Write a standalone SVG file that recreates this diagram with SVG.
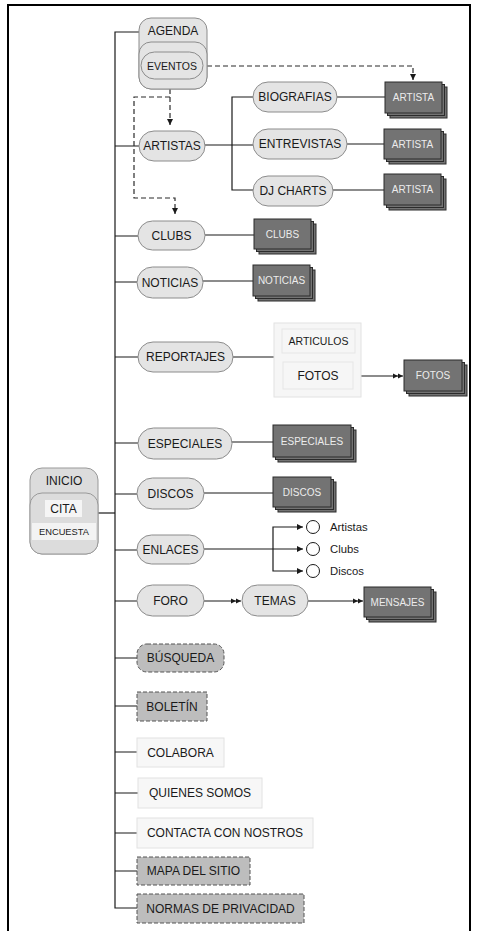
<svg xmlns="http://www.w3.org/2000/svg" width="479" height="931" viewBox="0 0 479 931">
<style>
text{font-family:"Liberation Sans",Arial,sans-serif;font-size:12px;fill:#1a1a1a;text-anchor:middle;dominant-baseline:central}
.pill{fill:#e4e4e4;stroke:#8c8c8c;stroke-width:1}
.dk{fill:#737373;stroke:#2b2b2b;stroke-width:1}
.dkt{fill:#ececec;font-size:10px}
.ln{fill:none;stroke:#1a1a1a;stroke-width:1.2}
.ds{fill:none;stroke:#2b2b2b;stroke-width:1.2;stroke-dasharray:5,3}
.gray{fill:#bdbdbd;stroke:#555;stroke-width:1;stroke-dasharray:4,2}
.lite{fill:#f7f7f7;stroke:#e2e2e2;stroke-width:1}
.sm{font-size:11.3px;text-anchor:start}
</style>
<defs>
<marker id="arr" markerUnits="userSpaceOnUse" markerWidth="6" markerHeight="6" refX="6" refY="3" orient="auto">
<path d="M0,0 L6,3 L0,6 Z" fill="#1a1a1a"/>
</marker>
<marker id="arr2" markerUnits="userSpaceOnUse" markerWidth="10" markerHeight="6" refX="10" refY="3" orient="auto">
<path d="M0,0.5 L5,3 L0,5.5 Z M5,0.5 L10,3 L5,5.5 Z" fill="#1a1a1a"/>
</marker>
</defs>

<!-- page frame -->
<rect x="8" y="5" width="462" height="940" fill="#fff" stroke="#000" stroke-width="2"/>

<g id="connectors">
<path class="ln" d="M139,32 H115 V908 H137"/>
<path class="ln" d="M98,513 H115"/>
<path class="ln" d="M115,146 H139 M115,236 H138 M115,282 H137 M115,357 H138 M115,443 H138 M115,494 H137 M115,550 H137 M115,601 H137 M115,658 H137 M115,706 H137 M115,752 H137 M115,793 H138 M115,833 H137 M115,871 H137"/>
<path class="ln" d="M205,145 H253 M253,97 H232 V190 H253"/>
<path class="ln" d="M337,97 H385 M347,144 H384 M333,190 H384"/>
<path class="ln" d="M205,235 H254 M203,281 H253 M233,357 H274 M232,442 H273 M204,493 H273"/>
<path class="ln" d="M361,376 H403" marker-end="url(#arr2)"/>
<path class="ln" d="M204,549 H303" marker-end="url(#arr)"/>
<path class="ln" d="M273,549 V527 H303" marker-end="url(#arr)"/>
<path class="ln" d="M273,549 V571 H303" marker-end="url(#arr)"/>
<path class="ln" d="M204,601 H241" marker-end="url(#arr2)"/>
<path class="ln" d="M308,601 H363" marker-end="url(#arr2)"/>
<path class="ds" d="M207,66 H413 V80" marker-end="url(#arr)"/>
<path class="ds" d="M170,89 V125" marker-end="url(#arr)"/>
<path class="ds" d="M170,97 H134 V198 H175 V214" marker-end="url(#arr)"/>
</g>

<g id="agenda">
<rect class="pill" x="139" y="18" width="68" height="71" rx="12"/>
<rect class="pill" x="139" y="42" width="68" height="47" rx="12"/>
<rect class="pill" x="141" y="52" width="62" height="27" rx="13.5"/>
<text x="173" y="31">AGENDA</text>
<text x="172" y="66" style="font-size:10.5px">EVENTOS</text>
</g>

<g id="artistas"><rect class="pill" x="139" y="131" width="66" height="30" rx="15"/><text x="172" y="146">ARTISTAS</text></g>
<g id="biografias"><rect class="pill" x="253" y="82" width="84" height="30" rx="15"/><text x="295" y="97">BIOGRAFIAS</text></g>
<g id="entrevistas"><rect class="pill" x="253" y="129" width="94" height="30" rx="15"/><text x="300" y="144">ENTREVISTAS</text></g>
<g id="djcharts"><rect class="pill" x="253" y="176" width="80" height="30" rx="15"/><text x="293" y="191">DJ CHARTS</text></g>

<g id="artista1">
<rect class="dk" x="390" y="87" width="57" height="31"/><rect class="dk" x="387.5" y="84.5" width="57" height="31"/><rect class="dk" x="385" y="82" width="57" height="31"/>
<text class="dkt" x="413.5" y="97.5">ARTISTA</text></g>
<g id="artista2">
<rect class="dk" x="389" y="134" width="57" height="30"/><rect class="dk" x="386.5" y="131.5" width="57" height="30"/><rect class="dk" x="384" y="129" width="57" height="30"/>
<text class="dkt" x="412.5" y="144">ARTISTA</text></g>
<g id="artista3">
<rect class="dk" x="389" y="179" width="57" height="31"/><rect class="dk" x="386.5" y="176.5" width="57" height="31"/><rect class="dk" x="384" y="174" width="57" height="31"/>
<text class="dkt" x="412.5" y="189.5">ARTISTA</text></g>

<g id="clubs"><rect class="pill" x="138" y="221" width="67" height="29" rx="14.5"/><text x="171.5" y="235.5">CLUBS</text></g>
<g id="clubs-sec">
<rect class="dk" x="259" y="224" width="57" height="30"/><rect class="dk" x="256.5" y="221.5" width="57" height="30"/><rect class="dk" x="254" y="219" width="57" height="30"/>
<text class="dkt" x="282.5" y="234">CLUBS</text></g>

<g id="noticias"><rect class="pill" x="137" y="267" width="66" height="31" rx="15.5"/><text x="170" y="282.5">NOTICIAS</text></g>
<g id="noticias-sec">
<rect class="dk" x="258" y="270" width="57" height="31"/><rect class="dk" x="255.5" y="267.5" width="57" height="31"/><rect class="dk" x="253" y="265" width="57" height="31"/>
<text class="dkt" x="281.5" y="280.5">NOTICIAS</text></g>

<g id="reportajes"><rect class="pill" x="138" y="342" width="95" height="30" rx="15"/><text x="185.5" y="357">REPORTAJES</text></g>
<g id="reportajes-sec">
<rect x="274" y="323" width="87" height="74" fill="#f6f6f6" stroke="#e2e2e2"/>
<rect x="282" y="329" width="73" height="24" fill="#f6f6f6" stroke="#e6e6e6"/>
<rect x="283" y="362" width="70" height="27" fill="#f6f6f6" stroke="#e6e6e6"/>
<text x="318.5" y="341" style="font-size:10.5px">ARTICULOS</text>
<text x="318" y="375.5">FOTOS</text>
</g>
<g id="fotos">
<rect class="dk" x="409" y="365" width="58" height="31"/><rect class="dk" x="406.5" y="362.5" width="58" height="31"/><rect class="dk" x="404" y="360" width="58" height="31"/>
<text class="dkt" x="433" y="375.5">FOTOS</text></g>

<g id="especiales"><rect class="pill" x="138" y="428" width="94" height="31" rx="15.5"/><text x="185" y="443.5">ESPECIALES</text></g>
<g id="especiales-sec">
<rect class="dk" x="278" y="430" width="78" height="32"/><rect class="dk" x="275.5" y="427.5" width="78" height="32"/><rect class="dk" x="273" y="425" width="78" height="32"/>
<text class="dkt" x="312" y="441">ESPECIALES</text></g>

<g id="inicio">
<rect x="30" y="468" width="68" height="86" rx="12" fill="#dcdcdc" stroke="#999"/>
<rect x="30" y="493" width="68" height="61" rx="12" fill="#dcdcdc" stroke="#999"/>
<rect x="45" y="500" width="37" height="17" fill="#f5f5f5"/>
<rect x="32" y="523" width="64" height="17" fill="#f3f3f3"/>
<text x="64" y="481">INICIO</text>
<text x="63.5" y="509">CITA</text>
<text x="64" y="531.5" style="font-size:9.3px">ENCUESTA</text>
</g>

<g id="discos"><rect class="pill" x="137" y="478" width="67" height="31" rx="15.5"/><text x="170.5" y="493.5">DISCOS</text></g>
<g id="discos-sec">
<rect class="dk" x="278" y="482" width="58" height="30"/><rect class="dk" x="275.5" y="479.5" width="58" height="30"/><rect class="dk" x="273" y="477" width="58" height="30"/>
<text class="dkt" x="302" y="492">DISCOS</text></g>

<g id="enlaces"><rect class="pill" x="137" y="535" width="67" height="29" rx="14.5"/><text x="170.5" y="549.5">ENLACES</text></g>
<g id="link-artistas"><circle cx="313" cy="527" r="6.5" fill="#fff" stroke="#1a1a1a"/><text class="sm" x="330" y="527">Artistas</text></g>
<g id="link-clubs"><circle cx="313" cy="549" r="6.5" fill="#fff" stroke="#1a1a1a"/><text class="sm" x="330" y="549">Clubs</text></g>
<g id="link-discos"><circle cx="313" cy="571" r="6.5" fill="#fff" stroke="#1a1a1a"/><text class="sm" x="330" y="571">Discos</text></g>

<g id="foro"><rect class="pill" x="137" y="585" width="67" height="31" rx="15.5"/><text x="170.5" y="600.5">FORO</text></g>
<g id="temas"><rect class="pill" x="242" y="585" width="66" height="31" rx="15.5"/><text x="275" y="600.5">TEMAS</text></g>
<g id="mensajes">
<rect class="dk" x="369" y="592" width="67" height="30"/><rect class="dk" x="366.5" y="589.5" width="67" height="30"/><rect class="dk" x="364" y="587" width="67" height="30"/>
<text class="dkt" x="397.5" y="602">MENSAJES</text></g>

<g id="busqueda"><rect class="gray" x="137" y="644" width="87" height="28" rx="10"/><text x="180.5" y="658">BÚSQUEDA</text></g>
<g id="boletin"><rect class="gray" x="137" y="692" width="70" height="29"/><text x="172" y="706.5">BOLETÍN</text></g>
<g id="colabora"><rect class="lite" x="137" y="738" width="87" height="29"/><text x="180.5" y="752.5">COLABORA</text></g>
<g id="quienes"><rect class="lite" x="138" y="778" width="124" height="30"/><text x="200" y="793">QUIENES SOMOS</text></g>
<g id="contacta"><rect class="lite" x="137" y="818" width="176" height="30"/><text x="225" y="833">CONTACTA CON NOSTROS</text></g>
<g id="mapa"><rect class="gray" x="137" y="857" width="113" height="28"/><text x="193.5" y="871">MAPA DEL SITIO</text></g>
<g id="normas"><rect class="gray" x="137" y="894" width="167" height="29"/><text x="220.5" y="908.5">NORMAS DE PRIVACIDAD</text></g>
</svg>
